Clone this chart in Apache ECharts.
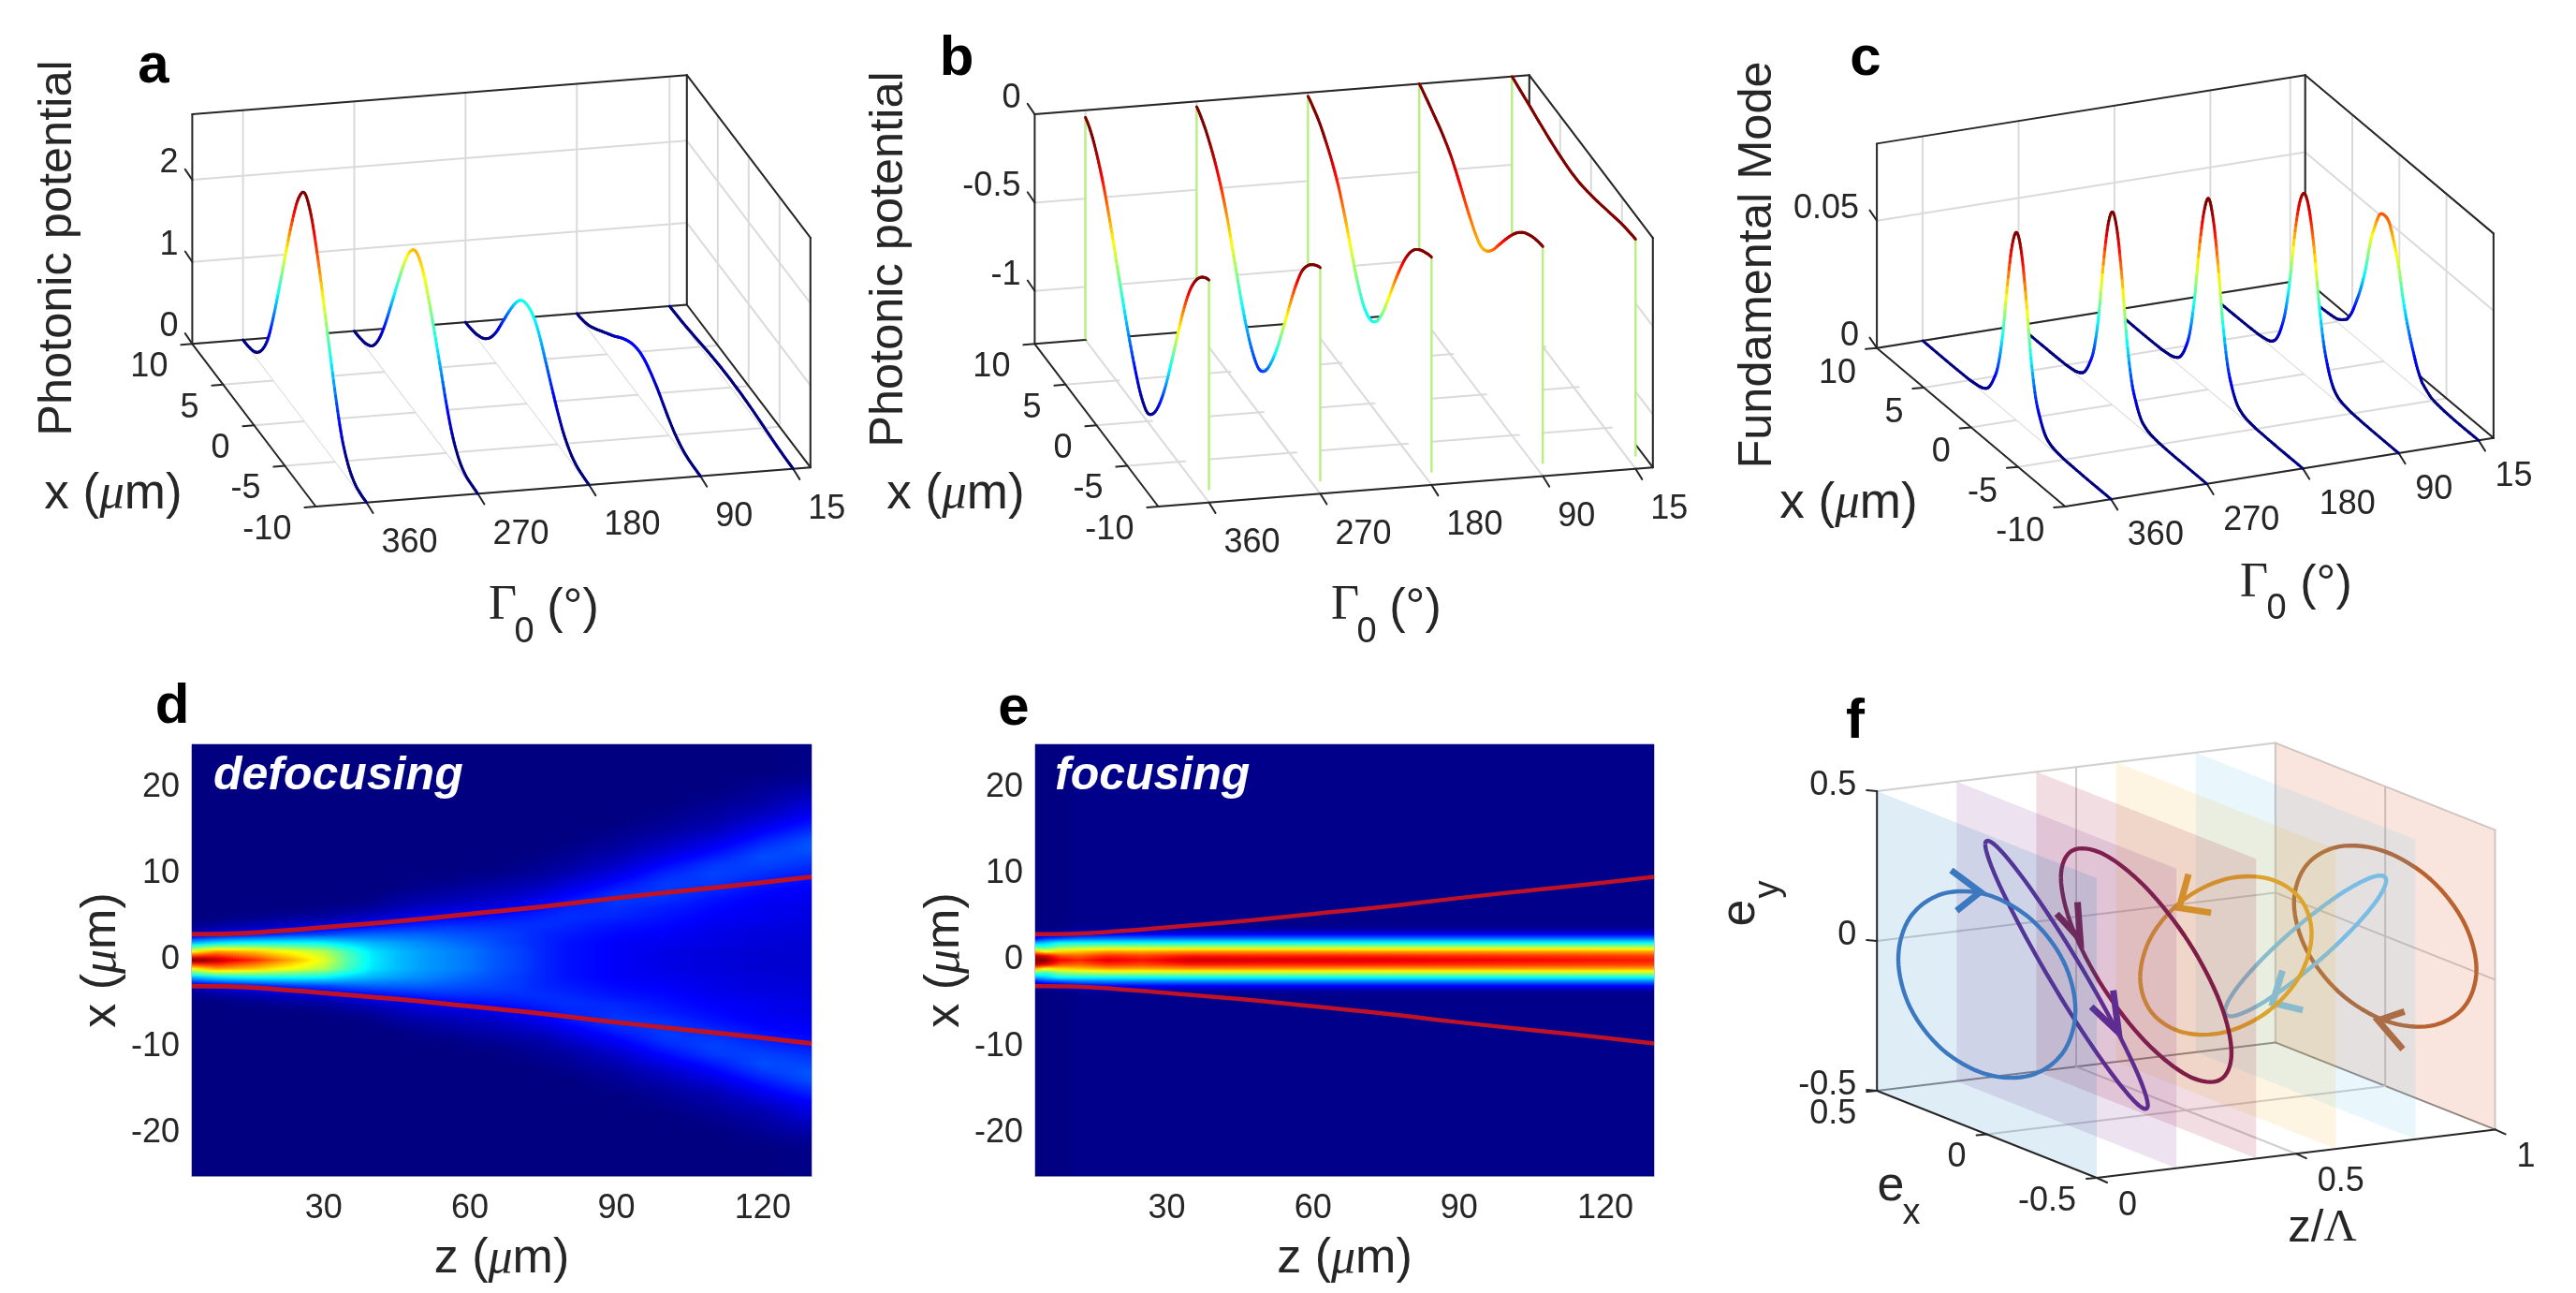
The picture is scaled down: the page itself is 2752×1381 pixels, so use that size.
<!DOCTYPE html>
<html><head><meta charset="utf-8">
<style>html,body{margin:0;padding:0;background:#fff}#c{width:2752px;height:1381px}</style>
<script src="https://cdn.jsdelivr.net/npm/echarts@6/dist/echarts.min.js"></script>
</head><body><div id="c"></div>
<script>
// ---------- data ----------
const gammaTicks = [360, 270, 180, 90, 15];
const xTicks = [10, 5, 0, -5, -10];
const aValueTicks = [0, 1, 2];
const bValueTicks = [0, -0.5, -1];
const cValueTicks = [0, 0.05];

const profileX = [10,9,8,7,6,5,4,3,2,1,0,-1,-2,-3,-4,-5,-6,-7,-8,-9,-10];
const a360 = [0,.01,.05,.17,.4,.8,1.28,1.78,2.25,2.62,2.78,2.62,2.25,1.78,1.28,.8,.4,.17,.05,.01,0];
const a270 = [0,.01,.04,.12,.3,.58,.92,1.27,1.6,1.86,1.96,1.86,1.6,1.27,.92,.56,.28,.11,.03,.01,0];
const a180 = [0,.01,.04,.1,.21,.38,.6,.82,1.02,1.16,1.2,1.16,1.02,.8,.58,.37,.2,.09,.03,.01,0];
const a90  = [0,.015,.05,.11,.18,.25,.32,.4,.47,.52,.54,.52,.46,.38,.28,.18,.1,.045,.015,.005,0];
const a15  = [0,.004,.01,.02,.032,.045,.058,.068,.076,.08,.082,.08,.076,.068,.058,.045,.032,.02,.01,.004,0];

const b360 = [-.04,-.09,-.18,-.30,-.45,-.62,-.79,-.95,-1.09,-1.2,-1.25,-1.21,-1.11,-.96,-.77,-.57,-.38,-.23,-.13,-.07,-.04];
const b270 = [-.03,-.07,-.13,-.21,-.31,-.44,-.6,-.76,-.9,-1.0,-1.05,-1.02,-.93,-.8,-.64,-.47,-.31,-.18,-.1,-.05,-.02];
const b180 = [-.02,-.05,-.09,-.15,-.22,-.31,-.43,-.57,-.7,-.79,-.82,-.79,-.7,-.57,-.43,-.3,-.19,-.11,-.06,-.03,-.01];
const b90  = [0,-.025,-.055,-.085,-.12,-.165,-.225,-.295,-.365,-.425,-.46,-.44,-.385,-.31,-.235,-.165,-.105,-.06,-.03,-.01,0];
const b15  = [0,-.012,-.024,-.036,-.05,-.062,-.074,-.084,-.092,-.098,-.1,-.098,-.09,-.08,-.068,-.054,-.04,-.026,-.014,-.006,0];

const modeX = [10,7,5,4,3.5,3,2.5,2,1.5,1,.5,0,-.5,-1,-1.5,-2,-2.5,-3,-3.5,-4,-5,-7,-10];
const c360 = [0,0,.0002,.0008,.0016,.0035,.008,.015,.029,.05,.067,.0736,.067,.05,.029,.015,.008,.0035,.0016,.0008,.0002,0,0];
const c270 = [0,0,.0002,.0008,.0017,.0036,.0082,.0155,.03,.052,.069,.0756,.069,.052,.03,.0155,.0082,.0036,.0017,.0008,.0002,0,0];
const c180 = [0,0,.0002,.0008,.0017,.0036,.0082,.016,.031,.052,.068,.0749,.068,.052,.031,.016,.0082,.0036,.0017,.0008,.0002,0,0];
const c90  = [0,0,.0003,.001,.002,.0045,.01,.019,.034,.053,.066,.0708,.066,.053,.034,.019,.01,.0045,.002,.001,.0003,0,0];
const c15  = [0,0,.001,.004,.008,.014,.021,.03,.042,.05,.056,.0573,.056,.05,.042,.03,.021,.014,.008,.004,.001,0,0];

const bStemBackBottom = -1.29;
const bStemFrontBottom = -1.225;

const beamZ = [3,10,20,30,45,60,75,90,105,120,130];
const beamEdge = [3.0,3.05,3.35,3.8,4.5,5.35,6.2,7.2,8.1,9.0,9.65];

const defocusZ = [3,5,8,12,16,20,25,30,35,40,45,50,55,60,65,70,75,80,90,100,110,120,130];
const defocusX = [0,1,2,3,4,5,6,7,8,9,10,11,12,13,14,15,16,17,18,19,20,21,22];
const defocusCols = [
 [1,.62,.3,.07,.02],
 [1,.66,.32,.08,.02],
 [.95,.72,.35,.1,.03],
 [.88,.7,.37,.12,.04,.01],
 [.83,.68,.38,.14,.05,.01],
 [.76,.64,.38,.16,.06,.02],
 [.68,.6,.38,.18,.07,.03],
 [.6,.55,.37,.19,.09,.03,.01],
 [.46,.44,.33,.21,.11,.05,.02],
 [.36,.35,.3,.22,.13,.07,.03,.01],
 [.31,.31,.28,.22,.15,.09,.05,.03,.01],
 [.28,.28,.26,.22,.16,.11,.07,.04,.02,.01],
 [.26,.26,.24,.21,.17,.12,.08,.05,.03,.01],
 [.24,.24,.22,.2,.17,.13,.09,.06,.04,.02,.01],
 [.21,.21,.2,.19,.17,.14,.1,.07,.05,.03,.01],
 [.19,.19,.18,.18,.17,.15,.12,.09,.06,.04,.02,.01],
 [.16,.16,.16,.16,.17,.16,.14,.11,.08,.05,.03,.02,.01],
 [.14,.14,.14,.15,.16,.17,.16,.14,.11,.08,.05,.03,.02,.01],
 [.12,.12,.12,.13,.14,.16,.17,.18,.16,.13,.1,.07,.05,.03,.02,.01],
 [.1,.1,.11,.12,.13,.14,.15,.17,.18,.18,.16,.13,.1,.07,.05,.03,.02,.01],
 [.09,.09,.1,.1,.11,.12,.13,.14,.16,.18,.19,.18,.15,.12,.09,.06,.04,.03,.02,.01],
 [.08,.08,.09,.09,.1,.11,.11,.12,.13,.15,.17,.19,.2,.18,.15,.12,.09,.06,.04,.03,.02,.01],
 [.08,.08,.08,.09,.09,.1,.1,.11,.12,.13,.15,.17,.19,.21,.2,.17,.14,.11,.09,.06,.04,.02,.01]
];

const focusZ = [3,5,8,12,18,25,35,50,70,90,110,130];
const focusX = [0,.5,1,1.5,2,2.5,3,3.5,4];
const focusCols = [
 [1,.95,.7,.45,.3,.12,.04,.01],
 [1,.9,.62,.42,.32,.18,.06,.01],
 [.88,.8,.66,.5,.38,.2,.08,.02],
 [.84,.78,.68,.53,.38,.23,.11,.03,.01],
 [.9,.83,.72,.55,.38,.24,.12,.04,.01],
 [.86,.81,.71,.55,.38,.24,.12,.04,.01],
 [.93,.85,.73,.55,.38,.24,.12,.04,.01],
 [.92,.84,.73,.55,.38,.24,.12,.04,.01],
 [.91,.84,.72,.55,.38,.24,.12,.04,.01],
 [.89,.83,.72,.55,.38,.24,.12,.04,.01],
 [.87,.82,.72,.55,.38,.24,.12,.04,.01],
 [.85,.81,.71,.55,.38,.24,.12,.04,.01]
];

const ellipseZ = [0, .2, .4, .6, .8, 1];
const ellipseBlue = [[.403,-.032],[.349,-.178],[.2015,-.276],[0,-.3],[-.2015,-.244],[-.349,-.123],[-.403,.032],[-.349,.178],[-.2015,.276],[0,.3],[.2015,.244],[.349,.123]];
const ellipsePurple = [[.37,.328],[.32,.231],[.185,.072],[0,-.107],[-.185,-.256],[-.32,-.337],[-.37,-.328],[-.32,-.231],[-.185,-.072],[0,.107],[.185,.256],[.32,.337]];
const ellipseMaroon = [[.388,.18],[.336,.027],[.194,-.133],[0,-.258],[-.194,-.314],[-.336,-.285],[-.388,-.18],[-.336,-.027],[-.194,.133],[0,.258],[.194,.314],[.336,.285]];
const ellipseYellow = [[.39,-.186],[.338,-.288],[.195,-.313],[0,-.255],[-.195,-.128],[-.338,.033],[-.39,.186],[-.338,.288],[-.195,.313],[0,.255],[.195,.128],[.338,-.033]];
const ellipseSky = [[.367,-.325],[.318,-.325],[.1835,-.238],[0,-.087],[-.1835,.087],[-.318,.238],[-.367,.325],[-.318,.325],[-.1835,.238],[0,.087],[.1835,-.087],[.318,-.238]];
const ellipseOrange = [[.415,-.01],[.359,-.149],[.2075,-.249],[0,-.282],[-.2075,-.239],[-.359,-.132],[-.415,.01],[-.359,.149],[-.2075,.249],[0,.282],[.2075,.239],[.359,.132]];
const arrowBlue = [[.1625,.334],[.03,.3],[.1375,.206]];
const arrowPurple = [[-.2125,.01],[-.2375,-.124],[-.1125,-.074]];
const arrowMaroon = [[.3125,.12],[.3,-.002],[.4075,.053]];
const arrowYellow = [[.17,.222],[.2125,.097],[.0675,.123]];
const arrowSky = [[.105,-.113],[.15,-.234],[.0125,-.218]];
const arrowOrange = [[-.0875,-.226],[.0325,-.291],[-.08,-.354]];
const ellipseColors = ['#3b78c0','#5f2c91','#7f1d46','#dca42d','#79bde6','#b9622f'];
const planeColors = ['rgba(0,114,189,.13)','rgba(126,47,142,.14)','rgba(162,20,47,.14)','rgba(237,177,32,.13)','rgba(77,190,238,.12)','rgba(217,83,25,.15)'];

// ---------- styles and view geometry ----------
const INK = '#262626', GRID = '#dadada', SANS = '"Liberation Sans"', SERIF = '"Liberation Serif"';
const panelA = {ox:205.4,oy:367.3,gx:528.4,gy:-41.8,xx:132,xy:173.7,vs:87.6,gMin:1,gMax:401,vMin:0,vMax:2.8,vTicks:aValueTicks,
  vLab:[-15,-18],xLab:[-26,25],gLab:[16,43.5]};
const panelB = {ox:1105.4,oy:367.3,gx:528.4,gy:-41.8,xx:132,xy:173.7,vs:188.6,gMin:1,gMax:401,vMin:-1.3,vMax:0,vTicks:bValueTicks,
  vLab:[-15,-17],xLab:[-26,25],gLab:[16,43.5]};
const panelC = {ox:2005.1,oy:371.8,gx:457.6,gy:-73.2,xx:201.2,xy:169.2,vs:2720,gMin:1,gMax:403,vMin:0,vMax:.0803,vTicks:cValueTicks,
  vLab:[-19,-12.6],xLab:[-22,27],gLab:[17.6,39]};
const viewF = {ox:2005.2,oy:1165,zx:425.6,zy:-51.6,ex:234.8,ey:93,up:320};

function project(p, g, x, v) {
  const t = (p.gMax - g) / (p.gMax - p.gMin), s = (10 - x) / 20;
  return [p.ox + t*p.gx + s*p.xx, p.oy + t*p.gy + s*p.xy - (v - p.vMin)*p.vs];
}
function projectF(z, ex, ey) {
  const s = .5 - ex;
  return [viewF.ox + z*viewF.zx + s*viewF.ex, viewF.oy + z*viewF.zy + s*viewF.ey - (ey + .5)*viewF.up];
}
function jet(v) {
  v = Math.max(0, Math.min(1, v));
  const c = q => Math.round(255*Math.max(0, Math.min(1, q)));
  const r = v < .375 ? 0 : v < .625 ? 4*(v-.375) : v < .875 ? 1 : 1-2*(v-.875)*2;
  const g = v < .125 ? 0 : v < .375 ? 4*(v-.125) : v < .625 ? 1 : v < .875 ? 1-4*(v-.625) : 0;
  const b = v < .125 ? .5+4*v : v < .375 ? 1 : v < .625 ? 1-4*(v-.375) : 0;
  return `rgb(${c(r)},${c(g)},${c(b)})`;
}
// drawing only: rounds polylines between the values
function rounded(pts, closed, n) {
  const out = [], N = pts.length, at = i => closed ? pts[(i+N)%N] : pts[Math.max(0, Math.min(N-1, i))];
  const last = closed ? N : N-1;
  for (let i = 0; i < last; i++) {
    const a = at(i-1), b = at(i), c = at(i+1), d = at(i+2);
    for (let k = 0; k < n; k++) {
      const t = k/n, t2 = t*t, t3 = t2*t;
      const q = b.map((_, j) => .5*(2*b[j] + (c[j]-a[j])*t + (2*a[j]-5*b[j]+4*c[j]-d[j])*t2 + (3*b[j]-a[j]-3*c[j]+d[j])*t3));
      if (!closed) q[0] = b[0] + (c[0]-b[0])*t;
      out.push(q);
    }
  }
  out.push(closed ? out[0].slice() : pts[N-1].slice());
  return out;
}
const lineEl = (api, a, b, color, w) => {
  const p = api.coord(a), q = api.coord(b);
  return {type:'line', silent:true, shape:{x1:p[0],y1:p[1],x2:q[0],y2:q[1]}, style:{stroke:color,lineWidth:w,lineCap:'round'}};
};
const textEl = (api, a, off, text, align, size) => {
  const p = api.coord(a);
  return {type:'text', silent:true, x:p[0]+off[0], y:p[1]+off[1],
    style:{text:String(text), font:`${size||36}px ${SANS}`, fill:INK, align, textAlign:align, verticalAlign:'middle', textVerticalAlign:'middle'}};
};

function boxRender(p) {
  return function (params, api) {
    const ch = [], P = (g,x,v) => project(p,g,x,v), gs = gammaTicks;
    const add = (a,b,c,w) => ch.push(lineEl(api,a,b,c,w));
    gs.forEach(g => {
      add(P(g,10,p.vMin),P(g,10,p.vMax),GRID,2);
      add(P(g,10,p.vMin),P(g,-10,p.vMin),GRID,2);
    });
    xTicks.forEach(x => {
      add(P(p.gMin,x,p.vMin),P(p.gMin,x,p.vMax),GRID,2);
      add(P(p.gMin,x,p.vMin),P(p.gMax,x,p.vMin),GRID,2);
    });
    p.vTicks.forEach(v => {
      add(P(p.gMax,10,v),P(p.gMin,10,v),GRID,2);
      add(P(p.gMin,10,v),P(p.gMin,-10,v),GRID,2);
    });
    const K = (a,b) => add(a,b,INK,2);
    K(P(p.gMax,10,p.vMax),P(p.gMin,10,p.vMax));
    K(P(p.gMin,10,p.vMax),P(p.gMin,-10,p.vMax));
    K(P(p.gMax,10,p.vMin),P(p.gMax,10,p.vMax));
    K(P(p.gMin,10,p.vMin),P(p.gMin,10,p.vMax));
    K(P(p.gMin,-10,p.vMin),P(p.gMin,-10,p.vMax));
    K(P(p.gMax,10,p.vMin),P(p.gMin,10,p.vMin));
    K(P(p.gMin,10,p.vMin),P(p.gMin,-10,p.vMin));
    K(P(p.gMin,-10,p.vMin),P(p.gMax,-10,p.vMin));
    K(P(p.gMax,-10,p.vMin),P(p.gMax,10,p.vMin));
    p.vTicks.forEach(v => {
      const a = P(p.gMax,10,v);
      K(a,[a[0]-7.6,a[1]-11.2]);
      ch.push(textEl(api,a,p.vLab,v,'right'));
    });
    xTicks.forEach(x => {
      const a = P(p.gMax,x,p.vMin);
      K(a,[a[0]-12,a[1]+1]);
      ch.push(textEl(api,a,p.xLab,x,'right'));
    });
    gs.forEach(g => {
      const a = P(g,-10,p.vMin);
      K(a,[a[0]+7,a[1]+11.2]);
      ch.push(textEl(api,a,p.gLab,g,'left'));
    });
    return {type:'group', children:ch};
  };
}

function curveRender(p, xs, lines, range, stems) {
  return function (params, api) {
    const idx = api.value(0), g = gammaTicks[idx], vals = lines[idx], ch = [];
    const raw = xs.map((x,i) => [x, vals[i]]);
    const dense = rounded(raw, false, 6);
    const pts = dense.map(d => api.coord(project(p,g,d[0],d[1])));
    const low = stems ? [stems[1],stems[0]] : [p.vMin,p.vMin];
    const tail = [api.coord(project(p,g,xs[xs.length-1],low[0])), api.coord(project(p,g,xs[0],low[1]))];
    ch.push({type:'polygon', silent:true, shape:{points:pts.concat(tail)}, style:{fill:'#fff',stroke:null}});
    if (stems) {
      ch.push(lineEl(api,project(p,g,xs[0],vals[0]),project(p,g,xs[0],stems[0]),'#b7f07f',2.4));
      ch.push(lineEl(api,project(p,g,xs[xs.length-1],vals[vals.length-1]),project(p,g,xs[xs.length-1],stems[1]),'#b7f07f',2.4));
    }
    for (let i = 0; i < pts.length-1; i++) {
      const v = (dense[i][1]+dense[i+1][1])/2;
      ch.push({type:'polyline', silent:true, shape:{points:[pts[i],pts[i+1]]},
        style:{stroke:jet((v-range[0])/(range[1]-range[0])),lineWidth:3,fill:null,lineCap:'round'}});
    }
    return {type:'group', children:ch};
  };
}

function heatRender(zs, rows, cols) {
  const valueAt = (col, y) => {
    const a = Math.abs(y);
    if (a >= rows[rows.length-1]) return col[rows.length-1] || 0;
    let j = 0; while (rows[j+1] <= a) j++;
    const t = (a-rows[j])/(rows[j+1]-rows[j]);
    return (col[j]||0)*(1-t) + (col[j+1]||0)*t;
  };
  return function (params, api) {
    const i = api.value(0), ch = [];
    const top = api.coord([zs[i],25]), bot = api.coord([zs[i],-25]), right = api.coord([zs[i+1],25]);
    const n = Math.max(1, Math.ceil((right[0]-top[0])/3)), w = (right[0]-top[0])/n;
    for (let k = 0; k < n; k++) {
      const t = (k+.5)/n, stops = [];
      for (let s = 0; s <= 200; s++) {
        const y = 25 - s*.25;
        const v = valueAt(cols[i],y)*(1-t) + valueAt(cols[i+1],y)*t;
        stops.push({offset:s/200,color:jet(v)});
      }
      ch.push({type:'rect', silent:true, shape:{x:top[0]+k*w,y:top[1],width:w+1,height:bot[1]-top[1]},
        style:{fill:new echarts.graphic.LinearGradient(0,0,0,1,stops)}});
    }
    return {type:'group', children:ch};
  };
}

function cubeFrameRender(params, api) {
  const ch = [], P = projectF, light = '#cfcfcf', mid = '#8c8c8c';
  const add = (a,b,c,w) => ch.push(lineEl(api,a,b,c,w));
  add(P(0,.5,.5),P(1,.5,.5),light,2);
  add(P(1,.5,.5),P(1,-.5,.5),light,2);
  add(P(1,.5,-.5),P(1,.5,.5),light,2);
  add(P(1,-.5,-.5),P(1,-.5,.5),light,2);
  add(P(.5,.5,-.5),P(.5,.5,.5),light,2);
  add(P(1,0,-.5),P(1,0,.5),light,2);
  add(P(0,.5,0),P(1,.5,0),light,2);
  add(P(1,.5,0),P(1,-.5,0),light,2);
  add(P(0,.5,-.5),P(1,.5,-.5),mid,2);
  add(P(1,.5,-.5),P(1,-.5,-.5),mid,2);
  add(P(0,0,-.5),P(1,0,-.5),light,2);
  add(P(.5,.5,-.5),P(.5,-.5,-.5),light,2);
  return {type:'group', children:ch};
}
function cubeAxesRender(params, api) {
  const ch = [], P = projectF;
  const K = (a,b) => ch.push(lineEl(api,a,b,INK,2));
  K(P(0,.5,-.5),P(0,.5,.5));
  K(P(0,.5,-.5),P(0,-.5,-.5));
  K(P(0,-.5,-.5),P(1,-.5,-.5));
  [.5,0,-.5].forEach(v => {
    const a = P(0,.5,v);
    K(a,[a[0]-11,a[1]-1]);
    ch.push(textEl(api,a,[-22,-6],v,'right'));
  });
  [.5,0,-.5].forEach(v => {
    const a = P(0,v,-.5);
    K(a,[a[0]-11,a[1]+1]);
    ch.push(textEl(api,a,[-22,25],v,'right'));
  });
  [0,.5,1].forEach(v => {
    const a = P(v,-.5,-.5);
    K(a,[a[0]+11,a[1]+5]);
    ch.push(textEl(api,a,[23,30],v,'left'));
  });
  return {type:'group', children:ch};
}
const ellipses = [ellipseBlue,ellipsePurple,ellipseMaroon,ellipseYellow,ellipseSky,ellipseOrange];
const arrows = [arrowBlue,arrowPurple,arrowMaroon,arrowYellow,arrowSky,arrowOrange];
function ellipseRender(params, api) {
  const i = api.value(0), z = ellipseZ[i];
  const corners = [[.5,-.5],[.5,.5],[-.5,.5],[-.5,-.5]].map(c => api.coord(projectF(z,c[0],c[1])));
  const loop = rounded(ellipses[i],true,8).map(d => api.coord(projectF(z,d[0],d[1])));
  const head = arrows[i].map(d => api.coord(projectF(z,d[0],d[1])));
  return {type:'group', children:[
    {type:'polygon', silent:true, shape:{points:corners}, style:{fill:planeColors[i],stroke:null}},
    {type:'polyline', silent:true, shape:{points:loop}, style:{stroke:ellipseColors[i],lineWidth:4.4,fill:null,lineJoin:'round'}},
    {type:'polyline', silent:true, shape:{points:head}, style:{stroke:ellipseColors[i],lineWidth:7,fill:null,lineJoin:'miter'}}
  ]};
}

const overlay = {coordinateSystem:'cartesian2d', xAxisIndex:0, yAxisIndex:0, clip:false, silent:true, type:'custom'};
const order = [[4],[3],[2],[1],[0]];
const series = [];
[
  [panelA,profileX,[a360,a270,a180,a90,a15],[.2,2.72],null],
  [panelB,profileX,[b360,b270,b180,b90,b15],[-1.25,-.12],[bStemBackBottom,bStemFrontBottom]],
  [panelC,modeX,[c360,c270,c180,c90,c15],[.002,.072],null]
].forEach(d => {
  series.push(Object.assign({},overlay,{z:2,data:[[0]],renderItem:boxRender(d[0])}));
  series.push(Object.assign({},overlay,{z:3,data:order,renderItem:curveRender(d[0],d[1],d[2],d[3],d[4])}));
});
series.push(Object.assign({},overlay,{z:2,data:[[0]],renderItem:cubeFrameRender}));
series.push(Object.assign({},overlay,{z:3,data:[[5],[4],[3],[2],[1],[0]],renderItem:ellipseRender}));
series.push(Object.assign({},overlay,{z:4,data:[[0]],renderItem:cubeAxesRender}));

[[1,defocusZ,defocusX,defocusCols],[2,focusZ,focusX,focusCols]].forEach(d => {
  series.push({type:'custom',coordinateSystem:'cartesian2d',xAxisIndex:d[0],yAxisIndex:d[0],clip:true,silent:true,z:2,
    data:d[1].slice(0,-1).map((_,i)=>[i]),renderItem:heatRender(d[1],d[2],d[3])});
  [1,-1].forEach(sign => series.push({type:'line',xAxisIndex:d[0],yAxisIndex:d[0],z:5,silent:true,symbol:'none',smooth:true,
    lineStyle:{color:'#bf1227',width:d[0]===1?5:4.5},
    data:beamZ.map((z,i)=>[z,sign*beamEdge[i]])}));
});

const nameRich = {i:{fontFamily:SERIF,fontStyle:'italic',fontSize:52,color:INK}};
const heatAxes = grid => [{
  gridIndex:grid,type:'value',min:3,max:130,
  axisLine:{show:true,onZero:false,lineStyle:{color:'#7d87a8',width:1}},axisTick:{show:false},splitLine:{show:false},
  axisLabel:{customValues:[30,60,90,120],fontFamily:SANS,fontSize:36,color:INK,margin:17},
  name:'z ({i|μ}m)',nameLocation:'middle',nameGap:63,nameTextStyle:{fontFamily:SANS,fontSize:52,color:INK,rich:nameRich}
},{
  gridIndex:grid,type:'value',min:-25,max:25,
  axisLine:{show:true,onZero:false,lineStyle:{color:'#7d87a8',width:1}},axisTick:{show:false},splitLine:{show:false},
  axisLabel:{customValues:[-20,-10,0,10,20],fontFamily:SANS,fontSize:36,color:INK,margin:13,padding:[6,0,0,0]},
  name:'x ({i|μ}m)',nameLocation:'middle',nameGap:70,nameTextStyle:{fontFamily:SANS,fontSize:52,color:INK,rich:nameRich}
}];
const h0 = heatAxes(1), h1 = heatAxes(2);

const T = (x,y,text,size,opt) => Object.assign({type:'text',x,y,z:100,silent:true,style:Object.assign({
  text,font:`${(opt&&opt.weight)||''} ${size}px ${(opt&&opt.family)||SANS}`,fill:(opt&&opt.fill)||INK,align:'center',textAlign:'center',verticalAlign:'middle',textVerticalAlign:'middle'
},opt&&opt.style)},opt&&opt.el);
const ROT = {el:{rotation:Math.PI/2}};
const muRich = {style:{rich:{i:{fontFamily:SERIF,fontStyle:'italic',fontSize:53,fill:INK}}}};
const gammaTitle = (x1,y1,x2,y2,x3,y3) => [
  T(x1,y1,'Γ',52,{family:SERIF}), T(x2,y2,'0',38), T(x3,y3,'(°)',52)
];
const letter = {weight:'bold',fill:'#000'};
const inset = {weight:'italic bold',fill:'#fff',style:{align:'left',textAlign:'left'}};
const annotations = [
  T(164,71,'a',60,letter),T(1022,63,'b',60,letter),T(1993,63,'c',60,letter),T(184,755,'d',60,letter),T(1083,757,'e',60,letter),T(1982,771,'f',60,letter),
  T(62,265,'Photonic potential',50.5,ROT), T(950,277,'Photonic potential',50.5,ROT), T(1878,283,'Fundamental Mode',50.5,ROT),
  T(121,528,'x ({i|μ}m)',53,muRich), T(1021,528,'x ({i|μ}m)',53,muRich), T(1975,538,'x ({i|μ}m)',53,muRich),
  ...gammaTitle(537,647,560,676,612,651), ...gammaTitle(1437,647,1460,676,1512,651), ...gammaTitle(2408,623,2432,651,2485,626),
  T(228,829,'defocusing',50,inset), T(1127,829,'focusing',50,inset),
  T(1860,975,'e',52,ROT), T(1890,950,'y',38,ROT),
  T(2020,1268,'e',52), T(2042,1297,'x',38),
  T(2481,1312,'z/{s|Λ}',49,{style:{rich:{s:{fontFamily:SERIF,fontSize:49,fill:INK}}}})
];

const chart = echarts.init(document.getElementById('c'),null,{renderer:'canvas',width:2752,height:1381});
chart.setOption({
  backgroundColor:'#fff',animation:false,
  grid:[
    {left:0,top:0,width:2752,height:1381,containLabel:false,outerBoundsMode:'none'},
    {left:205,top:795,width:662,height:461,show:true,backgroundColor:'#00007f',borderColor:'#7d87a8',borderWidth:1,outerBoundsMode:'none'},
    {left:1106,top:795,width:661,height:461,show:true,backgroundColor:'#00007f',borderColor:'#7d87a8',borderWidth:1,outerBoundsMode:'none'}
  ],
  xAxis:[{gridIndex:0,type:'value',min:0,max:2752,show:false},h0[0],h1[0]],
  yAxis:[{gridIndex:0,type:'value',min:0,max:1381,inverse:true,show:false},h0[1],h1[1]],
  graphic:{elements:annotations},
  series
});
</script></body></html>
